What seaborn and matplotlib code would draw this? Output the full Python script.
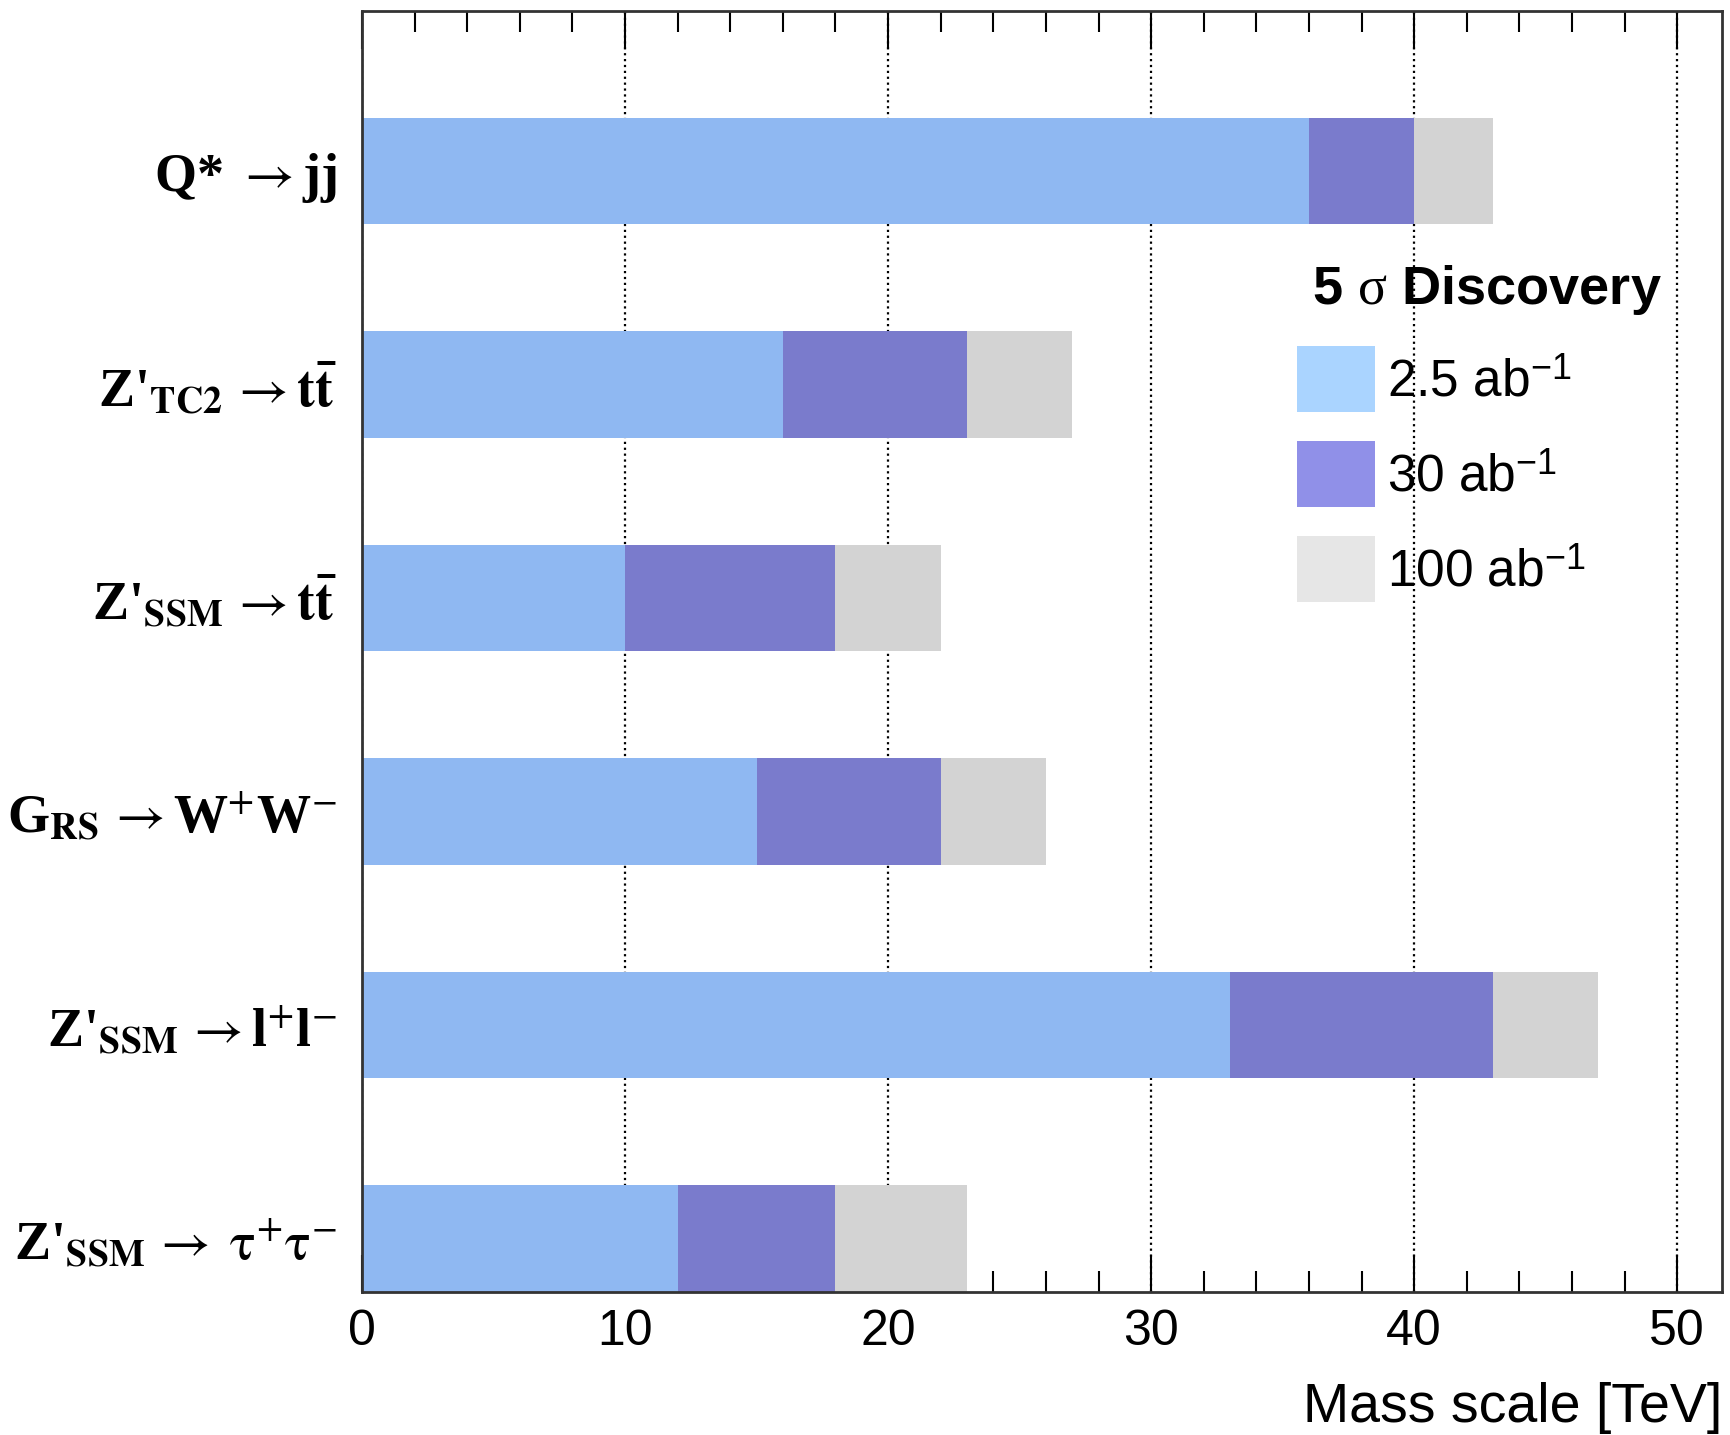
import seaborn as sns
import matplotlib.pyplot as plt
from matplotlib.patches import Patch
from matplotlib.ticker import MultipleLocator

# processes, top to bottom
processes = [
    r"Q* $\rightarrow$jj",
    r"Z'$_{\mathbf{TC2}}\,\rightarrow\mathbf{t\bar{t}}$",
    r"Z'$_{\mathbf{SSM}}\,\rightarrow\mathbf{t\bar{t}}$",
    r"G$_{\mathbf{RS}}\,\rightarrow$W$^{+}$W$^{-}$",
    r"Z'$_{\mathbf{SSM}}\,\rightarrow$l$^{+}$l$^{-}$",
    r"Z'$_{\mathbf{SSM}}\,\rightarrow\;\mathrm{\tau^{+}\tau^{-}}$",
]

# 5 sigma discovery reach [TeV]
reach_2p5 = [36, 16, 10, 15, 33, 12]
reach_30 = [40, 23, 18, 22, 43, 18]
reach_100 = [43, 27, 22, 26, 47, 23]

lumi_labels = [r"2.5 ab$^{\mathsf{-1}}$", r"30 ab$^{\mathsf{-1}}$", r"100 ab$^{\mathsf{-1}}$"]
bar_colors = ["#8fb8f2", "#7a7bcc", "#d3d3d3"]
legend_colors = ["#aad4ff", "#9090e8", "#e6e6e6"]

plt.rcParams.update({
    "font.family": "Liberation Sans",
    "mathtext.fontset": "custom",
    "mathtext.rm": "Liberation Serif:bold",
    "mathtext.bf": "Liberation Serif:bold",
    "mathtext.it": "Liberation Serif",
    "mathtext.sf": "Liberation Sans",
})

fig = plt.figure(figsize=(17.31, 14.35), dpi=100)
ax = fig.add_axes([0.2091, 0.0997, 0.7857, 0.8927])

# longest first so the shorter ones sit on top
for vals, col in zip([reach_100, reach_30, reach_2p5], bar_colors[::-1]):
    sns.barplot(x=vals, y=processes, orient="h", color=col, width=0.5,
                saturation=1, linewidth=0, ax=ax)

ax.set_xlim(0, 51.7)
ax.set_ylim(5.25, -0.75)
ax.xaxis.set_major_locator(MultipleLocator(10))
ax.xaxis.set_minor_locator(MultipleLocator(2))
ax.tick_params(axis="x", which="both", direction="in", top=True, bottom=True,
               width=1.5, labelsize=36, pad=12)
ax.tick_params(axis="x", which="major", length=27)
ax.tick_params(axis="x", which="minor", length=15)
ax.tick_params(axis="y", length=0, pad=18)
for lab in ax.get_yticklabels():
    lab.set_fontfamily("Liberation Serif")
    lab.set_fontweight("bold")
    lab.set_fontsize(39)
    lab.set_math_fontfamily("stix")

ax.set_axisbelow(True)
ax.grid(axis="x", which="major", color="black", linestyle=":", linewidth=1.6)
ax.grid(axis="y", visible=False)
for sp in ax.spines.values():
    sp.set_linewidth(2)
    sp.set_color("#333333")

ax.set_ylabel("")
ax.set_xlabel("Mass scale [TeV]", fontsize=40, loc="right", labelpad=20)

handles = [Patch(facecolor=c, edgecolor="none") for c in legend_colors]
leg = ax.legend(handles, lumi_labels, title=r" 5 $\sigma$ Discovery",
                loc="upper left", bbox_to_anchor=(0.6875, 0.803),
                frameon=False, fontsize=37, title_fontsize=39,
                handlelength=1.51, handleheight=1.6, handletextpad=0.25,
                labelspacing=0.56, borderpad=0, borderaxespad=0)
leg.get_title().set_fontweight("bold")
leg._legend_box.align = "left"

fig.savefig("out.png", dpi=100)
